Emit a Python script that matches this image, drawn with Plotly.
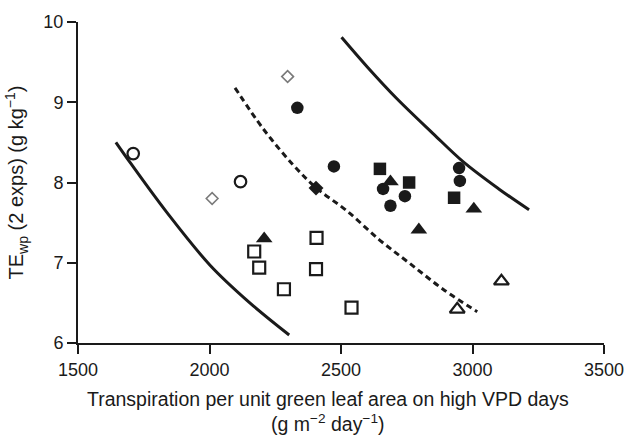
import plotly.graph_objects as go

# --- Reference lines (transpiration vs TE) ---
low_x = [1644, 1700, 1837, 2002, 2150, 2303]
low_y = [8.50, 8.24, 7.63, 6.97, 6.51, 6.10]

mid_x = [2097, 2204, 2318, 2407, 2521, 2648, 2762, 2888, 3018]
mid_y = [9.18, 8.67, 8.22, 7.93, 7.65, 7.28, 6.99, 6.67, 6.39]

high_x = [2502, 2600, 2711, 2850, 2964, 3100, 3215]
high_y = [9.81, 9.44, 9.05, 8.61, 8.26, 7.92, 7.66]

# --- Genotype observations ---
open_circle_x = [1710, 2118]
open_circle_y = [8.36, 8.01]

open_diamond_x = [2010, 2297]
open_diamond_y = [7.80, 9.32]

filled_circle_x = [2334, 2473, 2660, 2743, 2688, 2949, 2952]
filled_circle_y = [8.93, 8.20, 7.92, 7.83, 7.71, 8.18, 8.02]

filled_diamond_x = [2405]
filled_diamond_y = [7.93]

filled_square_x = [2648, 2759, 2930]
filled_square_y = [8.17, 8.00, 7.81]

filled_triangle_x = [2208, 2688, 2796, 3005]
filled_triangle_y = [7.30, 8.01, 7.41, 7.67]

open_square_x = [2170, 2189, 2283, 2407, 2405, 2540]
open_square_y = [7.14, 6.94, 6.67, 7.31, 6.92, 6.44]

open_triangle_x = [2942, 3110]
open_triangle_y = [6.42, 6.77]

x_ticks = [1500, 2000, 2500, 3000, 3500]
y_ticks = [6, 7, 8, 9, 10]

INK = "#1a1a1a"
FONT = "Liberation Sans, Arial, sans-serif"

fig = go.Figure()

for lx, ly, dash in [(low_x, low_y, "solid"), (mid_x, mid_y, "6px,4px"), (high_x, high_y, "solid")]:
    fig.add_trace(go.Scatter(
        x=lx, y=ly, mode="lines",
        line=dict(color=INK, width=3, dash=dash, shape="spline", smoothing=1),
        hoverinfo="skip", showlegend=False,
    ))


def pts(x, y, symbol, size, fill, line_color, line_width):
    fig.add_trace(go.Scatter(
        x=x, y=y, mode="markers", showlegend=False,
        marker=dict(symbol=symbol, size=size, color=fill,
                    line=dict(color=line_color, width=line_width)),
    ))


pts(open_diamond_x, open_diamond_y, "diamond", 9, "white", "#7a7a7a", 1.6)
pts(open_circle_x, open_circle_y, "circle", 11.5, "white", INK, 2.2)
pts(open_square_x, open_square_y, "square", 12, "white", INK, 2.2)
pts(open_triangle_x, open_triangle_y, "triangle-up", 13, "white", INK, 2.2)
pts(filled_circle_x, filled_circle_y, "circle", 12.5, INK, INK, 0)
pts(filled_diamond_x, filled_diamond_y, "diamond", 11.5, INK, INK, 0)
pts(filled_square_x, filled_square_y, "square", 12.5, INK, INK, 0)
pts(filled_triangle_x, filled_triangle_y, "triangle-up", 14.5, INK, INK, 0)

axis_common = dict(
    showline=True, linecolor=INK, linewidth=2,
    ticks="outside", ticklen=9, tickwidth=2, tickcolor=INK,
    showgrid=False, zeroline=False, ticklabeloverflow="allow",
    tickfont=dict(family=FONT, size=18, color=INK),
)

fig.update_xaxes(range=[1500, 3500], tickvals=x_ticks, automargin=False, **axis_common)
fig.update_yaxes(range=[6, 10], tickvals=y_ticks, **axis_common,
                 title=dict(text="TE<sub>wp</sub> (2 exps) (g kg<sup>−1</sup>)",
                            font=dict(family=FONT, size=20, color=INK), standoff=14))

fig.add_annotation(text="Transpiration per unit green leaf area on high VPD days",
                   xref="paper", yref="paper", x=0.475, y=0, yshift=-56,
                   showarrow=False, yanchor="middle",
                   font=dict(family=FONT, size=19.5, color=INK))
fig.add_annotation(text="(g m<sup>−2</sup> day<sup>−1</sup>)",
                   xref="paper", yref="paper", x=0.475, y=0, yshift=-80,
                   showarrow=False, yanchor="middle",
                   font=dict(family=FONT, size=19.5, color=INK))

fig.update_layout(
    width=624, height=436,
    margin=dict(l=78, r=20, t=16, b=93),
    paper_bgcolor="white", plot_bgcolor="white",
)

fig.write_html("out.html")
